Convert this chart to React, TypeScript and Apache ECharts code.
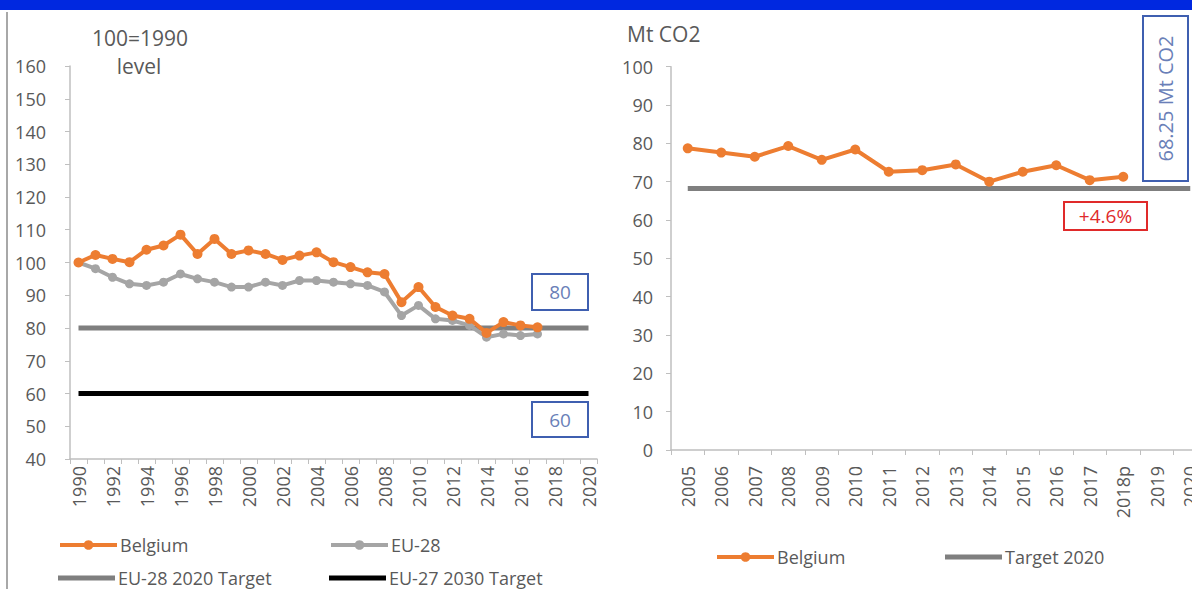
import React, { useEffect, useRef } from 'react';
import * as echarts from 'echarts';

// ---------- data ----------
const leftYears = [
  '1990', '1991', '1992', '1993', '1994', '1995', '1996', '1997', '1998', '1999',
  '2000', '2001', '2002', '2003', '2004', '2005', '2006', '2007', '2008', '2009',
  '2010', '2011', '2012', '2013', '2014', '2015', '2016', '2017', '2018', '2019', '2020',
];
// index, 1990 = 100 (1990..2017)
const belgiumIndex = [
  100, 102.3, 101.1, 100.1, 103.9, 105.2, 108.5, 102.6, 107.2, 102.6,
  103.7, 102.6, 100.8, 102.1, 103.1, 100.1, 98.6, 97.0, 96.5, 87.9,
  92.5, 86.4, 83.8, 82.8, 78.5, 81.8, 80.8, 80.2,
];
const eu28Index = [
  100, 98.1, 95.5, 93.5, 93.0, 94.0, 96.5, 95.0, 94.0, 92.5,
  92.5, 94.0, 93.0, 94.5, 94.5, 94.0, 93.5, 93.0, 91.0, 83.8,
  86.9, 82.8, 82.3, 80.8, 77.2, 78.2, 77.7, 78.2,
];
const eu28Target2020 = 80;
const eu27Target2030 = 60;
const leftTicks = { min: 40, max: 160, interval: 10 };

const rightYears = [
  '2005', '2006', '2007', '2008', '2009', '2010', '2011', '2012',
  '2013', '2014', '2015', '2016', '2017', '2018p', '2019', '2020',
];
const belgiumMt = [
  78.7, 77.6, 76.5, 79.3, 75.7, 78.4, 72.6, 73.0, 74.5, 70.0, 72.6, 74.3, 70.4, 71.3,
];
const belgiumTarget2020 = 68.25;
const rightTicks = { min: 0, max: 100, interval: 10 };

// ---------- styles ----------
const FONT = 'Open Sans';
const TXT = '#595959';
const ORANGE = '#ed7d31';
const LIGHTGRAY = '#a5a5a5';
const TARGETGRAY = '#7f7f7f';
const AXIS = '#bfbfbf';
const BLUE = '#3f5fb0';
const BLUETXT = '#6a7fb8';
const RED = '#e02a2a';

const labelStyle = { color: TXT, fontFamily: FONT, fontSize: 18 };

function makeLegend(name: string, left: number, top: number, isTarget = false) {
  return {
    data: isTarget ? [{ name, icon: 'rect' }] : [name],
    left,
    top,
    padding: 0,
    itemGap: 0,
    itemWidth: 57,
    itemHeight: isTarget ? 5 : 12,
    selectedMode: false,
    lineStyle: { width: 4 },
    textStyle: { color: TXT, fontFamily: FONT, fontSize: 18, padding: [0, 0, 0, -2] },
  };
}

export default function App() {
  const ref = useRef<HTMLDivElement>(null);
  useEffect(() => {
    const chart = echarts.init(ref.current!, null, { renderer: 'svg' });
    const option: any = {
      animation: false,
      backgroundColor: '#ffffff',
      textStyle: { fontFamily: FONT },
      grid: [
        { left: 70, top: 66, width: 527, height: 393 },
        { left: 671, top: 66.7, width: 536, height: 383.3 },
      ],
      xAxis: [
        {
          type: 'category',
          gridIndex: 0,
          data: leftYears,
          boundaryGap: true,
          axisLine: { lineStyle: { color: AXIS, width: 1.5 } },
          axisTick: { show: true, interval: 0, length: 5, lineStyle: { color: AXIS } },
          axisLabel: { ...labelStyle, rotate: 90, interval: 1, margin: 7 },
          splitLine: { show: false },
        },
        {
          type: 'category',
          gridIndex: 1,
          data: rightYears,
          boundaryGap: true,
          axisLine: { lineStyle: { color: AXIS, width: 1.5 } },
          axisTick: { show: true, interval: 0, length: 5, lineStyle: { color: AXIS } },
          axisLabel: { ...labelStyle, rotate: 90, interval: 0, margin: 16 },
          splitLine: { show: false },
        },
      ],
      yAxis: [
        {
          type: 'value',
          gridIndex: 0,
          ...leftTicks,
          axisLine: { show: true, lineStyle: { color: AXIS, width: 1.5 } },
          axisTick: { show: true, length: 5, lineStyle: { color: AXIS } },
          axisLabel: { ...labelStyle, margin: 24 },
          splitLine: { show: false },
        },
        {
          type: 'value',
          gridIndex: 1,
          ...rightTicks,
          axisLine: { show: true, lineStyle: { color: AXIS, width: 1.5 } },
          axisTick: { show: true, length: 5, lineStyle: { color: AXIS } },
          axisLabel: { ...labelStyle, margin: 18 },
          splitLine: { show: false },
        },
      ],
      legend: [
        makeLegend('Belgium', 58, 536),
        makeLegend('EU-28', 329, 536),
        makeLegend('EU-28 2020 Target', 58, 569, true),
        makeLegend('EU-27 2030 Target', 329, 569, true),
        makeLegend('Target 2020', 945, 548, true),
        makeLegend('Belgium ', 715, 548),
      ],
      series: [
        {
          name: 'EU-28 2020 Target',
          type: 'line',
          xAxisIndex: 0,
          yAxisIndex: 0,
          data: [[leftYears[0], eu28Target2020], [leftYears[leftYears.length - 1], eu28Target2020]],
          symbol: 'none',
          lineStyle: { color: TARGETGRAY, width: 5 },
          itemStyle: { color: TARGETGRAY },
          z: 2,
        },
        {
          name: 'EU-27 2030 Target',
          type: 'line',
          xAxisIndex: 0,
          yAxisIndex: 0,
          data: [[leftYears[0], eu27Target2030], [leftYears[leftYears.length - 1], eu27Target2030]],
          symbol: 'none',
          lineStyle: { color: '#000000', width: 5 },
          itemStyle: { color: '#000000' },
          z: 2,
        },
        {
          name: 'EU-28',
          type: 'line',
          xAxisIndex: 0,
          yAxisIndex: 0,
          data: eu28Index,
          symbol: 'circle',
          symbolSize: 9,
          lineStyle: { color: LIGHTGRAY, width: 4 },
          itemStyle: { color: LIGHTGRAY },
          z: 3,
        },
        {
          name: 'Belgium',
          type: 'line',
          xAxisIndex: 0,
          yAxisIndex: 0,
          data: belgiumIndex,
          symbol: 'circle',
          symbolSize: 10,
          lineStyle: { color: ORANGE, width: 4 },
          itemStyle: { color: ORANGE },
          z: 4,
        },
        {
          name: 'Target 2020',
          type: 'line',
          xAxisIndex: 1,
          yAxisIndex: 1,
          data: [[rightYears[0], belgiumTarget2020], [rightYears[rightYears.length - 1], belgiumTarget2020]],
          symbol: 'none',
          lineStyle: { color: TARGETGRAY, width: 5 },
          itemStyle: { color: TARGETGRAY },
          z: 2,
        },
        {
          name: 'Belgium ',
          type: 'line',
          xAxisIndex: 1,
          yAxisIndex: 1,
          data: belgiumMt,
          symbol: 'circle',
          symbolSize: 10,
          lineStyle: { color: ORANGE, width: 4 },
          itemStyle: { color: ORANGE },
          z: 4,
        },
      ],
      graphic: [
        { type: 'rect', shape: { x: 0, y: 0, width: 1220, height: 10 }, style: { fill: '#0028e0' }, silent: true },
        { type: 'rect', shape: { x: 6, y: 12, width: 2, height: 577 }, style: { fill: '#a8a8a8' }, silent: true },
        {
          type: 'text', x: 140, y: 38,
          style: { text: '100=1990', fill: TXT, font: `21px "${FONT}"`, align: 'center', verticalAlign: 'middle' },
        },
        {
          type: 'text', x: 139, y: 66,
          style: { text: 'level', fill: TXT, font: `21px "${FONT}"`, align: 'center', verticalAlign: 'middle' },
        },
        {
          type: 'text', x: 627, y: 34,
          style: { text: 'Mt CO2', fill: TXT, font: `21px "${FONT}"`, align: 'left', verticalAlign: 'middle' },
        },
        // 80 box
        { type: 'rect', shape: { x: 532, y: 274, width: 56, height: 36 }, style: { fill: '#fff', stroke: BLUE, lineWidth: 2 } },
        {
          type: 'text', x: 560, y: 292,
          style: { text: '80', fill: BLUETXT, font: `19px "${FONT}"`, align: 'center', verticalAlign: 'middle' },
        },
        // 60 box
        { type: 'rect', shape: { x: 532, y: 402, width: 56, height: 35 }, style: { fill: '#fff', stroke: BLUE, lineWidth: 2 } },
        {
          type: 'text', x: 560, y: 419.5,
          style: { text: '60', fill: BLUETXT, font: `19px "${FONT}"`, align: 'center', verticalAlign: 'middle' },
        },
        // 68.25 box
        { type: 'rect', shape: { x: 1143, y: 16, width: 45, height: 165 }, style: { fill: '#fff', stroke: BLUE, lineWidth: 2 } },
        {
          type: 'text', x: 1165.5, y: 98.5, rotation: Math.PI / 2,
          style: { text: '68.25 Mt CO2', fill: BLUETXT, font: `20px "${FONT}"`, align: 'center', verticalAlign: 'middle' },
        },
        // +4.6% box
        { type: 'rect', shape: { x: 1064, y: 202, width: 83, height: 28 }, style: { fill: '#fff', stroke: RED, lineWidth: 2 } },
        {
          type: 'text', x: 1105.5, y: 216,
          style: { text: '+4.6%', fill: RED, font: `19px "${FONT}"`, align: 'center', verticalAlign: 'middle' },
        },
      ],
    };
    chart.setOption(option);
    return () => chart.dispose();
  }, []);
  return (
    <div style={{ position: 'fixed', left: 0, top: 0, width: 1192, height: 589, overflow: 'hidden', background: '#fff' }}>
      <div ref={ref} style={{ width: 1220, height: 589 }} />
    </div>
  );
}
